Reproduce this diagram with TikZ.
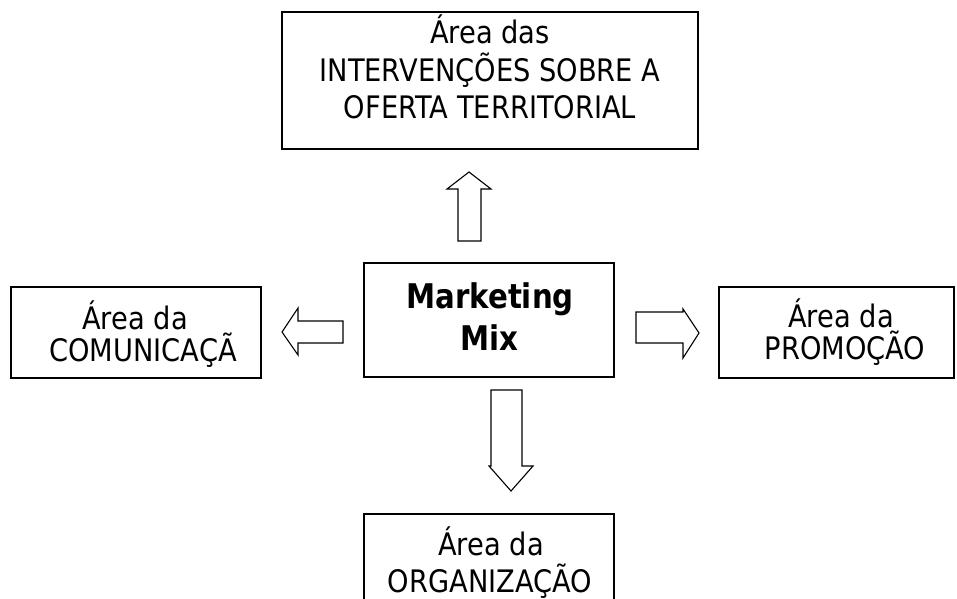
\documentclass[tikz,border=0pt]{standalone}
\usepackage{fontspec}
\setmainfont{DejaVu Sans}[FakeStretch=0.88]
\newfontfamily\mixfont{DejaVu Sans}[FakeStretch=0.86]
\begin{document}
\begin{tikzpicture}[x=1pt,y=-1pt,
  areabox/.style={draw=black, line width=1.7pt, inner sep=0pt},
  arealabel/.style={inner sep=0pt, anchor=base, font=\fontsize{31}{37}\selectfont},
  mixlabel/.style={inner sep=0pt, anchor=base, font=\mixfont\bfseries\fontsize{34}{42}\selectfont},
  blockarrow/.style={draw=black, line width=1.1pt, fill=white, line join=miter}]
\clip (0,0) rectangle (957,598);
\fill[white] (0,0) rectangle (957,598);

% boxes
\node[areabox, minimum width=416pt, minimum height=137pt] (oferta) at (490,80.5) {};
\node[areabox, minimum width=250pt, minimum height=114pt] (mix) at (489,320) {};
\node[areabox, minimum width=250pt, minimum height=91pt] (comunicacao) at (136,332.5) {};
\node[areabox, minimum width=235pt, minimum height=91pt] (promocao) at (836.5,332.5) {};
\node[areabox, minimum width=250pt, minimum height=120pt] (organizacao) at (489,574) {};

% texts
\node[arealabel] (t1) at (490,43) {Área das};
\node[arealabel] (t2) at (490,81) {INTERVENÇÕES SOBRE A};
\node[arealabel] (t3) at (490,118) {OFERTA TERRITORIAL};
\node[mixlabel] (m1) at (490,308) {Marketing};
\node[mixlabel] (m2) at (489,350) {Mix};
\node[arealabel] (c1) at (135,329) {Área da};
\node[arealabel] (c2) at (143,361) {COMUNICAÇÃ};
\node[arealabel] (p1) at (841,327) {Área da};
\node[arealabel] (p2) at (845,359) {PROMOÇÃO};
\node[arealabel] (o1) at (491,555) {Área da};
\node[arealabel] (o2) at (490,592) {ORGANIZAÇÃO};

% block arrows
\draw[blockarrow] (469,172) -- (491,189) -- (481,189) -- (481,241) -- (458,241) -- (458,189) -- (447,189) -- cycle;
\draw[blockarrow] (282,332) -- (298,308) -- (298,321) -- (343,321) -- (343,343) -- (298,343) -- (298,355) -- cycle;
\draw[blockarrow] (699,333) -- (683,309) -- (683,312) -- (636,312) -- (636,343) -- (683,343) -- (683,358) -- cycle;
\draw[blockarrow] (511,491) -- (533,466) -- (522,466) -- (522,390) -- (491,390) -- (491,466) -- (489,466) -- cycle;
\end{tikzpicture}
\end{document}
